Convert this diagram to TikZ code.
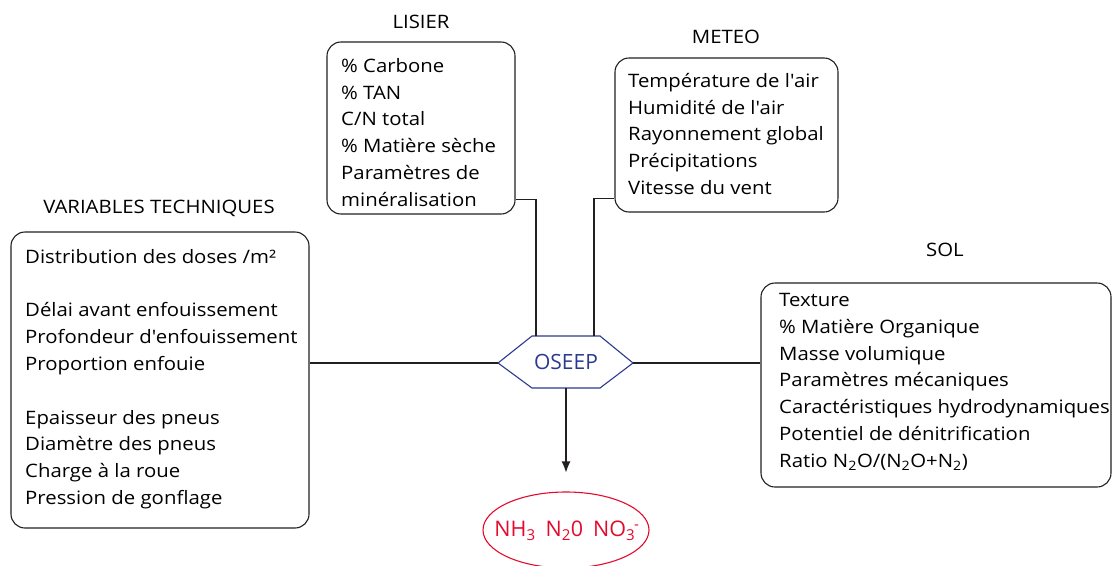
\documentclass[tikz,border=0pt]{standalone}
\usepackage{fontspec}
\setmainfont{Open Sans}[FakeStretch=1.1]
\newfontfamily\plainsans{Open Sans}
\usetikzlibrary{arrows.meta,shapes.geometric}
\definecolor{lineblk}{RGB}{35,31,32}
\definecolor{oblue}{RGB}{43,57,144}
\definecolor{ored}{RGB}{228,10,45}
\newcommand{\apos}{\textquotesingle}
\begin{document}
\begin{tikzpicture}[x=1pt,y=-1pt,
  box/.style={draw=lineblk, line width=1.1pt, rounded corners=14pt, inner sep=0},
  txt/.style={anchor=north west, align=left, inner sep=0, font=\fontsize{18.5}{26.8}\selectfont},
  ttl/.style={inner sep=0, font=\fontsize{18.5}{24}\selectfont},
  conn/.style={draw=lineblk, line width=1.1pt}]
\useasboundingbox (0,0) rectangle (1116,565);

% titles
\node[ttl] (tlis) at (421,22) {LISIER};
\node[ttl] (tmet) at (726,37) {METEO};
\node[ttl] (tvt) at (159,208) {VARIABLES TECHNIQUES};
\node[ttl] (tsol) at (945,250) {SOL};

% boxes
\node[box, minimum width=188, minimum height=172] (lisier) at (421,128) {};
\node[box, minimum width=223, minimum height=154] (meteo) at (726.5,135) {};
\node[box, minimum width=298, minimum height=296] (vt) at (160,380) {};
\node[box, minimum width=350, minimum height=204] (sol) at (936,385) {};

% box texts
\node[txt] (lisiertxt) at (341,58) {\% Carbone\\\% TAN\\C/N total\\\% Matière sèche\\Paramètres de\\minéralisation};
\node[txt] (meteotxt) at (628,73) {Température de l\apos air\\Humidité de l\apos air\\Rayonnement global\\Précipitations\\Vitesse du vent};
\node[txt] (vttxt) at (25,249) {Distribution des doses /m²\\[26.8pt]Délai avant enfouissement\\Profondeur d\apos enfouissement\\Proportion enfouie\\[26.8pt]Epaisseur des pneus\\Diamètre des pneus\\Charge à la roue\\Pression de gonflage};
\node[txt] (soltxt) at (779,293) {Texture\\\% Matière Organique\\Masse volumique\\Paramètres mécaniques\\Caractéristiques hydrodynamiques\\Potentiel de dénitrification\\Ratio N\textsubscript{2}O/(N\textsubscript{2}O+N\textsubscript{2})};

% hexagon
\coordinate (hl) at (498,363);
\coordinate (ht1) at (532,336);
\coordinate (ht2) at (600,336);
\coordinate (hr) at (633,363);
\coordinate (hb2) at (600,388);
\coordinate (hb1) at (532,388);
\coordinate (hin1) at (536,336);
\coordinate (hin2) at (594,336);
\coordinate (hbot) at (566,388);
\draw[draw=oblue, line width=1.1pt] (hl) -- (ht1) -- (ht2) -- (hr) -- (hb2) -- (hb1) -- cycle;
\node[text=oblue, inner sep=0, font=\plainsans\fontsize{21}{24}\selectfont] (oseep) at (566,362) {OSEEP};

% output ellipse
\node[ellipse, draw=ored, line width=1.1pt, minimum width=166, minimum height=76, inner sep=0] (out) at (566,530) {};
\node[text=ored, inner sep=0, font=\plainsans\fontsize{21.5}{26}\selectfont] (outtxt) at (567,531)
  {NH\textsubscript{3}\hspace{10pt}N\textsubscript{2}0\hspace{10pt}NO\textsubscript{3}\kern-0.05em\textsuperscript{-}};

% connectors
\draw[conn] ([yshift=15pt]lisier.south east) -| (hin1);
\draw[conn] ([yshift=14pt]meteo.south west) -| (hin2);
\draw[conn] (hl) -- (hl -| vt.east);
\draw[conn] (hr) -- (hr -| sol.west);
\draw[conn, -{Latex[length=11pt,width=9pt]}] (hbot) -- ([yshift=19pt]out.north);
\end{tikzpicture}
\end{document}
